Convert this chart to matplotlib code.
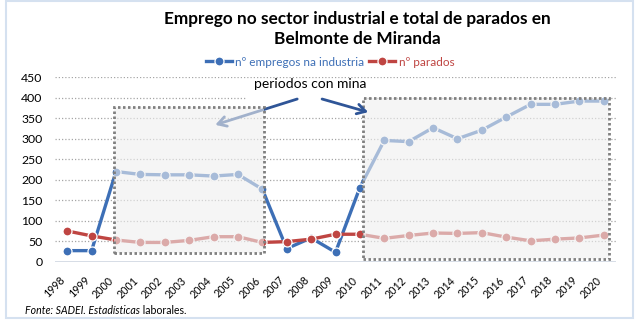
import matplotlib
matplotlib.use("Agg")
import matplotlib.pyplot as plt
from matplotlib.patches import Rectangle, FancyArrowPatch
from matplotlib.transforms import ScaledTranslation

plt.rcParams['font.family'] = ['Lato', 'DejaVu Sans']

# Data
years = list(range(1998, 2021))
empregos_industria = [27, 27, 220, 213, 212, 212, 209, 213, 177, 32, 58, 23,
                      181, 296, 293, 327, 300, 321, 353, 384, 384, 392, 392]
parados = [75, 63, 53, 47, 47, 52, 61, 61, 47, 49, 55, 67,
           67, 57, 64, 70, 69, 71, 60, 51, 55, 58, 65]
y_ticks = [0, 50, 100, 150, 200, 250, 300, 350, 400, 450]
series_labels = ['nº empregos na industria', 'nº parados']
title = 'Emprego no sector industrial e total de parados en\nBelmonte de Miranda'
note = 'periodos con mina'

BLUE = '#3D6FB6'
RED = '#BF4542'

W, H = 636, 328
fig = plt.figure(figsize=(W / 100, H / 100), dpi=100)

def fx(px):
    return px / W

def fy(py):
    return 1 - py / H

ax = fig.add_axes([fx(55), fy(261.7), fx(616) - fx(55), fy(77.3) - fy(261.7)])
ax.set_xlim(1997.5, 2020.5)
ax.set_ylim(0, 450)

# gridlines
for v in y_ticks[1:]:
    ax.axhline(v, color='#A6A6A6', lw=0.9, ls=(0, (1, 1.6)), zorder=1)
ax.axhline(0, color='#D0D7E2', lw=1.2, zorder=1)

for s in ax.spines.values():
    s.set_visible(False)

l1, = ax.plot(years, empregos_industria, color=BLUE, lw=2.4, marker='o', ms=6.5,
              mfc=BLUE, mec='white', mew=0.9, zorder=3, label=series_labels[0])
l2, = ax.plot(years, parados, color=RED, lw=2.4, marker='o', ms=6.5,
              mfc=RED, mec='white', mew=0.9, zorder=3, label=series_labels[1])

# shaded mining periods
for x0, x1, y0, y1 in [(1999.93, 2006.08, 21, 378), (2010.12, 2020.22, 6, 399)]:
    ax.add_patch(Rectangle((x0, y0), x1 - x0, y1 - y0, facecolor='#EFEFEF',
                           alpha=0.6, edgecolor='none', zorder=4))
    ax.add_patch(Rectangle((x0, y0), x1 - x0, y1 - y0, facecolor='none',
                           edgecolor='#808080', lw=2.0, ls=(0, (0.9, 0.9)), zorder=5))

# label for the periods
ax.add_patch(Rectangle((2005.38, 392), 4.75, 51, facecolor='white',
                       edgecolor='none', zorder=2))
ax.text(2007.96, 433, note, ha='center', va='center', fontsize=10,
        color='black', zorder=6)
ax.add_patch(FancyArrowPatch((2007.43, 397), (2004.07, 334), arrowstyle='->,head_length=6,head_width=3.5',
                             color='#2F5597', lw=2.0, zorder=3.5, shrinkA=0, shrinkB=0))
ax.add_patch(FancyArrowPatch((2008.45, 397), (2010.34, 365), arrowstyle='->,head_length=6,head_width=3.5',
                             color='#2F5597', lw=2.0, zorder=6, shrinkA=0, shrinkB=0))

ax.set_yticks(y_ticks)
ax.set_yticklabels([str(v) for v in y_ticks], fontsize=8.8)
ax.set_xticks(years)
ax.set_xticklabels([str(y) for y in years], fontsize=7.7, rotation=45,
                   ha='right', va='center', rotation_mode='anchor')
ax.tick_params(axis='both', length=0)
ax.tick_params(axis='x', pad=12)
ax.tick_params(axis='y', pad=9)
shift = ScaledTranslation(-0.04, 0, fig.dpi_scale_trans)
for lab in ax.get_xticklabels():
    lab.set_transform(lab.get_transform() + shift)

fig.text(fx(357), fy(29), title, ha='center', va='center', fontsize=12.4,
         fontweight='bold', linespacing=1.25)

leg = fig.legend(handles=[l1, l2], loc='center', bbox_to_anchor=(fx(330), fy(62)),
                 ncol=2, frameon=False, fontsize=8.5, handlelength=2.2,
                 columnspacing=0.4, handletextpad=0.3, borderpad=0)
for t, c in zip(leg.get_texts(), [BLUE, RED]):
    t.set_color(c)

t1 = fig.text(fx(25), fy(311), 'Fonte: SADEI. Estadísticas', ha='left', va='center',
              fontsize=7.6, style='italic')
fig.canvas.draw()
ax.annotate(' laborales.', xy=(1, 0.5), xycoords=t1, ha='left', va='center',
            fontsize=7.6, annotation_clip=False)

# chart frame
fig.add_artist(Rectangle((fx(5.5), fy(318)), fx(633) - fx(5.5), fy(1) - fy(318),
                         transform=fig.transFigure, facecolor='none',
                         edgecolor='#D5E1F0', lw=1.5))

fig.savefig('out.png', dpi=100)
